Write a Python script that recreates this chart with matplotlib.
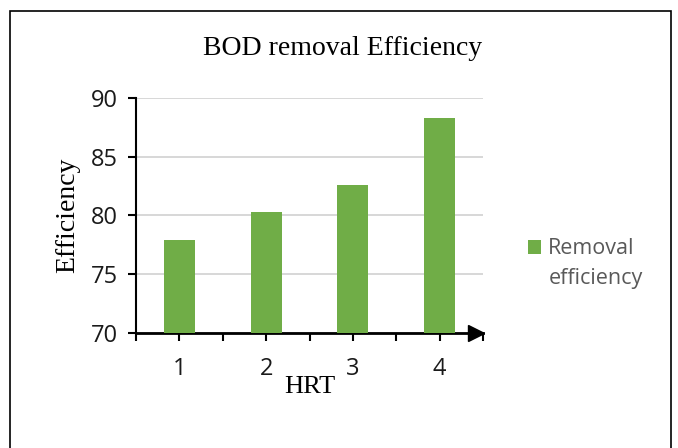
import matplotlib
matplotlib.use("Agg")
import matplotlib.pyplot as plt
from matplotlib.patches import Rectangle

hrt = ["1", "2", "3", "4"]
efficiency = [77.9, 80.3, 82.6, 88.3]
yticks = [70, 75, 80, 85, 90]

green = "#70ad47"
serif = "Liberation Serif"

fig = plt.figure(figsize=(6.78, 4.48), dpi=100)
ax = fig.add_axes([0.2006, 0.2567, 0.5118, 0.5246])

x = list(range(len(hrt)))
ax.bar(x, efficiency, width=0.36, color=green, zorder=3, label="Removal\nefficiency")

ax.set_xlim(-0.5, len(hrt) - 0.5)
ax.set_ylim(70, 90)
ax.set_yticks(yticks)
ax.set_xticks(x)
ax.set_xticklabels(hrt)
# boundary ticks between categories
ax.set_xticks([i - 0.5 for i in range(len(hrt) + 1)], minor=True)

ax.grid(axis="y", color="#d4d4d4", lw=1.3, zorder=0)
for s in ["top", "right"]:
    ax.spines[s].set_visible(False)
ax.spines["left"].set_linewidth(1.5)
ax.spines["bottom"].set_linewidth(2)
ax.tick_params(axis="y", direction="out", length=6, width=1.5, labelsize=17, pad=7)
ax.tick_params(axis="x", which="both", direction="out", length=6, width=1.5, labelsize=17, pad=11)
for lab in ax.get_xticklabels() + ax.get_yticklabels():
    lab.set_fontfamily("Open Sans")
    lab.set_color("#1a1a1a")

# arrow head at the end of the x axis
ax.plot([0.98], [0.0], marker=">", color="black", markersize=11, transform=ax.transAxes, clip_on=False, zorder=5)

ax.set_xlabel("HRT", fontsize=19, family=serif, labelpad=-3)
ax.set_ylabel("Efficiency", fontsize=20, family=serif, labelpad=8)
fig.text(0.505, 0.892, "BOD removal Efficiency", ha="center", va="center", fontsize=20, family=serif)

fs = 15.5
leg = fig.legend(loc="center left", bbox_to_anchor=(0.75, 0.411), frameon=False,
                 handlelength=0.6, handleheight=0.6, handletextpad=0.35,
                 prop={"family": "Open Sans", "size": fs})
for t in leg.get_texts():
    t.set_color("#595959")
    t.set_linespacing(1.55)
# square sits next to the first line
for h in leg.legend_handles:
    h.set_y(h.get_y() + 0.8 * fs)

fig.patches.append(Rectangle((10 / 678, -0.01), 661 / 678, 1 - 11 / 448 + 0.01, transform=fig.transFigure,
                             fill=False, edgecolor="black", lw=1.2))

fig.savefig("out.png", dpi=100)
